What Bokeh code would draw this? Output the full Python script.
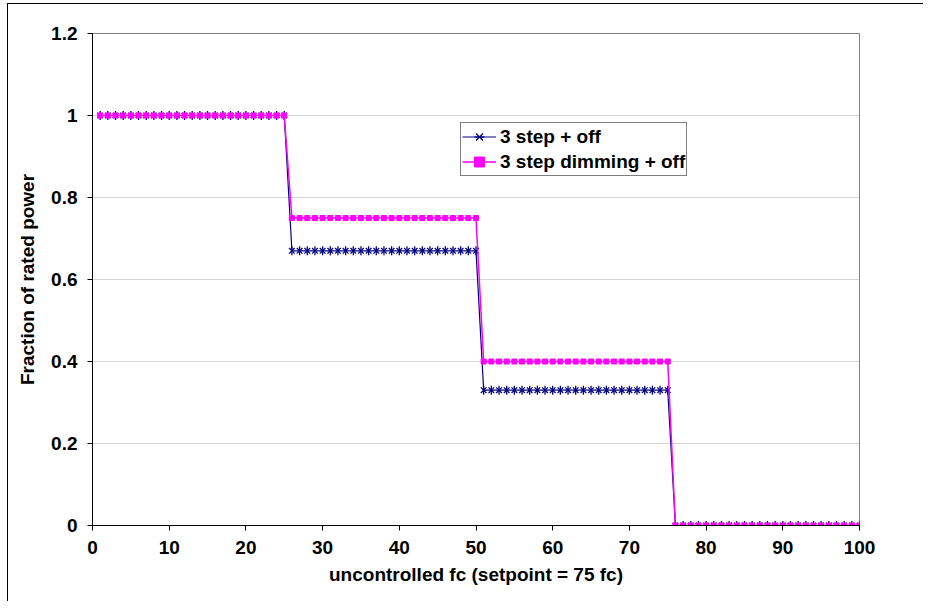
from bokeh.plotting import figure
from bokeh.embed import file_html
from bokeh.resources import INLINE
from bokeh.models import FixedTicker, CustomJSTickFormatter, Legend, LegendItem, ColumnDataSource

# ---- data ----
x_values = list(range(1, 101))
three_step_off = [1.0] * 25 + [0.67] * 25 + [0.33] * 25 + [0.0] * 25
three_step_dimming_off = [1.0] * 25 + [0.75] * 25 + [0.40] * 25 + [0.0] * 25
series_names = ["3 step + off", "3 step dimming + off"]
x_ticks = [0, 10, 20, 30, 40, 50, 60, 70, 80, 90, 100]
y_ticks = [0, 0.2, 0.4, 0.6, 0.8, 1.0, 1.2]
x_title = "uncontrolled fc (setpoint = 75 fc)"
y_title = "Fraction of rated power"

FONT = "Liberation Sans"
FS = "19px"

src = ColumnDataSource(dict(x=x_values, a=three_step_off, b=three_step_dimming_off))

p = figure(width=916, height=598, output_backend="svg", toolbar_location=None,
           x_range=(0, 100), y_range=(0, 1.2),
           min_border_left=84, min_border_top=29, min_border_right=65, min_border_bottom=77)
p.styles = {"border-left": "1px solid black", "border-top": "1px solid black",
            "margin-left": "7px", "margin-top": "3px"}

p.background_fill_color = "white"
p.border_fill_color = "white"
p.outline_line_color = "#808080"
p.outline_line_width = 1

# grids
p.xgrid.grid_line_color = None
p.ygrid.grid_line_color = "#a8a8a8"
p.ygrid.grid_line_dash = "1 1"
p.ygrid.grid_line_width = 1

# axes
for ax in (p.xaxis[0], p.yaxis[0]):
    ax.axis_line_color = "black"
    ax.axis_line_width = 1
    ax.major_tick_line_color = "black"
    ax.major_tick_in = 0
    ax.major_tick_out = 5
    ax.minor_tick_line_color = None
    ax.major_label_text_font = FONT
    ax.major_label_text_font_size = FS
    ax.major_label_text_font_style = "bold"
    ax.major_label_text_color = "black"
    ax.axis_label_text_font = FONT
    ax.axis_label_text_font_size = FS
    ax.axis_label_text_font_style = "bold"
    ax.axis_label_text_color = "black"
    ax.major_label_standoff = 10

p.xaxis.ticker = FixedTicker(ticks=x_ticks)
p.yaxis.ticker = FixedTicker(ticks=y_ticks)
p.yaxis.formatter = CustomJSTickFormatter(code="return tick.toFixed(1).replace(/\\.0$/, '');")
p.xaxis.axis_label = x_title
p.yaxis.axis_label = y_title
p.xaxis.axis_label_standoff = 7
p.yaxis.axis_label_standoff = 10

NAVY = "#000080"
MAG = "#FF00FF"

# series 1: line + star marker (x with vertical bar)
l1 = p.line("x", "a", source=src, line_color=NAVY, line_width=1.2)
m1x = p.scatter("x", "a", source=src, marker="x", size=8, line_color=NAVY, line_width=1.3)
m1v = p.scatter("x", "a", source=src, marker="dash", size=9, angle=1.5708, line_color=NAVY, line_width=1.3)
# series 2: line + small square marker
l2 = p.line("x", "b", source=src, line_color=MAG, line_width=1.5)
m2 = p.scatter("x", "b", source=src, marker="square", size=5, fill_color=MAG, line_color=MAG)

legend = Legend(items=[LegendItem(label=series_names[0], renderers=[l1, m1x, m1v]),
                       LegendItem(label=series_names[1], renderers=[l2, m2])],
                location=(368, 349))
legend.border_line_color = "black"
legend.border_line_width = 1
legend.background_fill_color = "white"
legend.background_fill_alpha = 1
legend.label_text_font = FONT
legend.label_text_font_size = FS
legend.label_text_font_style = "bold"
legend.label_text_color = "black"
legend.glyph_width = 34
legend.glyph_height = 25
legend.label_height = 25
legend.label_standoff = 4
legend.padding = 1
legend.spacing = 0
legend.margin = 0
p.add_layout(legend, "center")

open("out.html", "w").write(file_html(p, INLINE))
